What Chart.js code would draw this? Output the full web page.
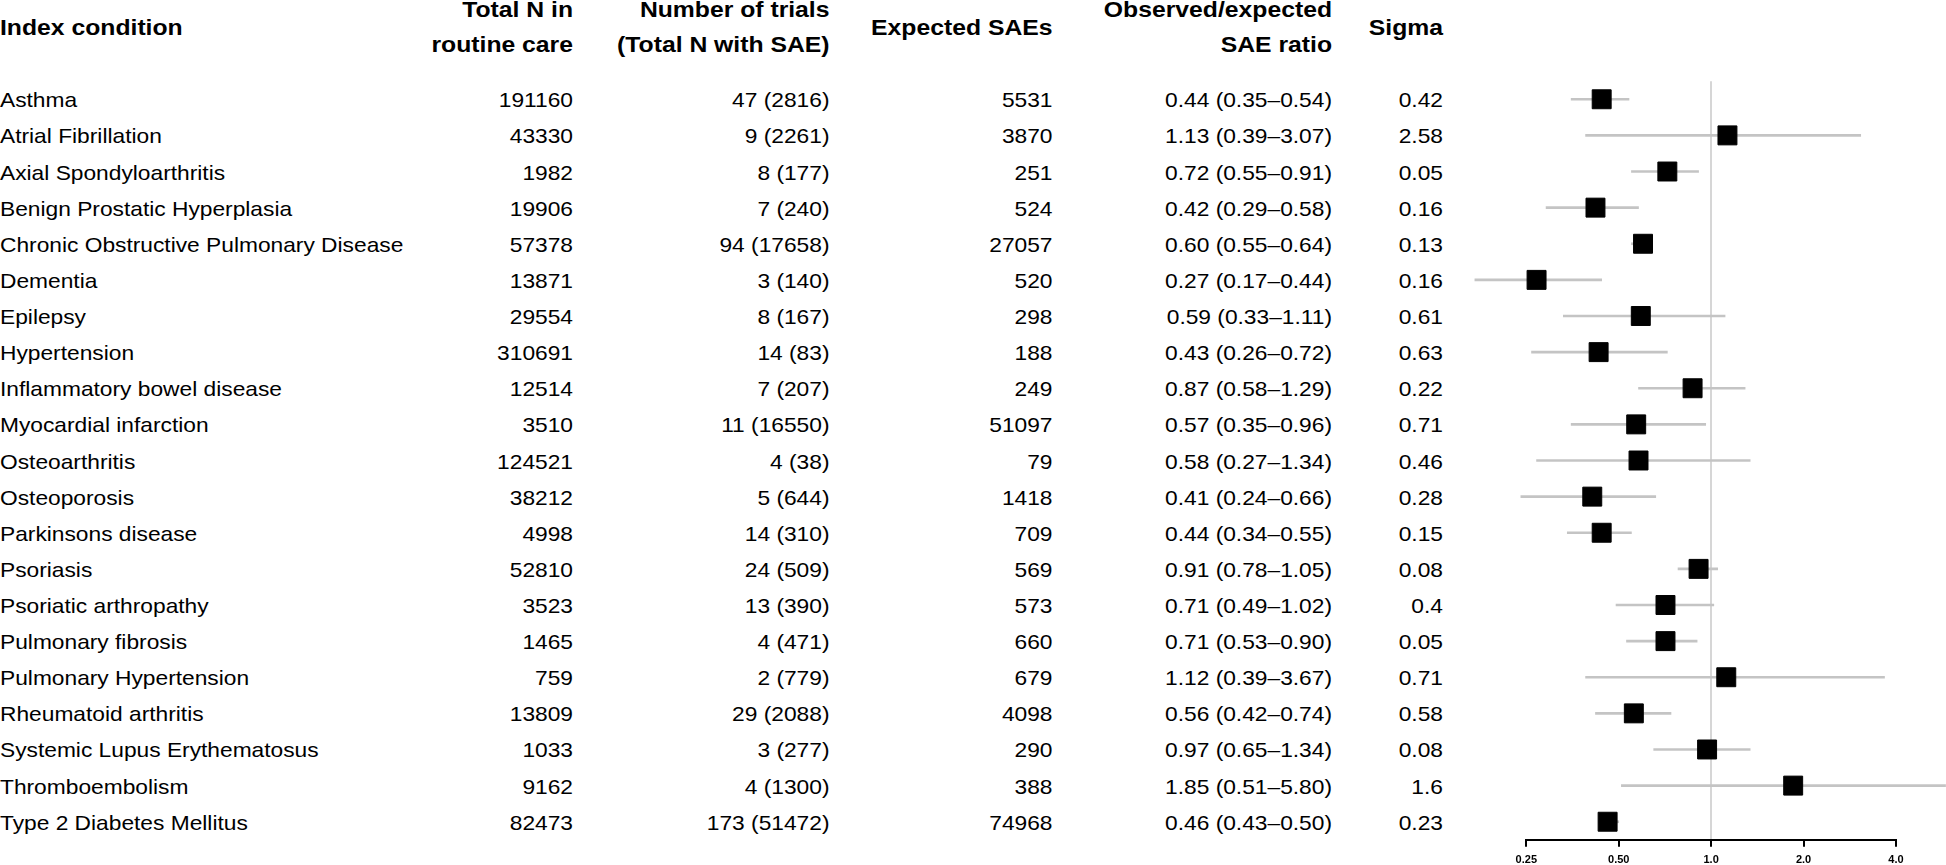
<!DOCTYPE html>
<html>
<head>
<meta charset="utf-8">
<script src="https://cdn.jsdelivr.net/npm/chart.js@4/dist/chart.umd.min.js"></script>
<style>
  html, body { margin:0; padding:0; overflow:hidden; background:#fff; width:1946px; height:865px; }
  #tbl { position:absolute; left:0; top:0; height:865px; transform-origin:0 0; font-family:"Liberation Sans", Arial, Helvetica, sans-serif; color:#000; }
  .cell { position:absolute; white-space:nowrap; font-size:19.8px; line-height:36px; }
  .hd { position:absolute; white-space:nowrap; font-size:21.5px; line-height:35px; font-weight:bold; }
  #plot { position:absolute; left:1400px; top:0; }
</style>
</head>
<body>
<div id="tbl"></div>
<div id="plot"><canvas id="c" width="546" height="874"></canvas></div>
<script>
// ---- data ----
const conditions = ['Asthma','Atrial Fibrillation','Axial Spondyloarthritis','Benign Prostatic Hyperplasia','Chronic Obstructive Pulmonary Disease','Dementia','Epilepsy','Hypertension','Inflammatory bowel disease','Myocardial infarction','Osteoarthritis','Osteoporosis','Parkinsons disease','Psoriasis','Psoriatic arthropathy','Pulmonary fibrosis','Pulmonary Hypertension','Rheumatoid arthritis','Systemic Lupus Erythematosus','Thromboembolism','Type 2 Diabetes Mellitus'];
const totalN = [191160, 43330, 1982, 19906, 57378, 13871, 29554, 310691, 12514, 3510, 124521, 38212, 4998, 52810, 3523, 1465, 759, 13809, 1033, 9162, 82473];
const nTrials = [47, 9, 8, 7, 94, 3, 8, 14, 7, 11, 4, 5, 14, 24, 13, 4, 2, 29, 3, 4, 173];
const nWithSAE = [2816, 2261, 177, 240, 17658, 140, 167, 83, 207, 16550, 38, 644, 310, 509, 390, 471, 779, 2088, 277, 1300, 51472];
const expectedSAEs = [5531, 3870, 251, 524, 27057, 520, 298, 188, 249, 51097, 79, 1418, 709, 569, 573, 660, 679, 4098, 290, 388, 74968];
const ratio = [0.44, 1.13, 0.72, 0.42, 0.60, 0.27, 0.59, 0.43, 0.87, 0.57, 0.58, 0.41, 0.44, 0.91, 0.71, 0.71, 1.12, 0.56, 0.97, 1.85, 0.46];
const lower = [0.35, 0.39, 0.55, 0.29, 0.55, 0.17, 0.33, 0.26, 0.58, 0.35, 0.27, 0.24, 0.34, 0.78, 0.49, 0.53, 0.39, 0.42, 0.65, 0.51, 0.43];
const upper = [0.54, 3.07, 0.91, 0.58, 0.64, 0.44, 1.11, 0.72, 1.29, 0.96, 1.34, 0.66, 0.55, 1.05, 1.02, 0.90, 3.67, 0.74, 1.34, 5.80, 0.50];
const sigma = ['0.42','2.58','0.05','0.16','0.13','0.16','0.61','0.63','0.22','0.71','0.46','0.28','0.15','0.08','0.4','0.05','0.71','0.58','0.08','1.6','0.23'];
const headers = ['Index condition', 'Total N in|routine care', 'Number of trials|(Total N with SAE)', 'Expected SAEs', 'Observed/expected|SAE ratio', 'Sigma'];
const tickValues = [0.25, 0.5, 1, 2, 4];
const tickLabels = ['0.25', '0.50', '1.0', '2.0', '4.0'];

// ---- forest plot ----
const ciData = conditions.map((c, i) => ({ x: [lower[i], upper[i]], y: i }));
const estData = conditions.map((c, i) => ({ x: ratio[i], y: i }));

const chart = new Chart(document.getElementById('c'), {
  type: 'bar',
  data: {
    datasets: [
      { type: 'bar', indexAxis: 'y', data: ciData, backgroundColor: '#c4c4c4', borderWidth: 0, barThickness: 2, clip: false, order: 2 },
      { type: 'scatter', data: estData, pointStyle: 'rect', pointRadius: 13.4, pointHoverRadius: 13.4,
        backgroundColor: '#000', borderColor: '#000', borderWidth: 1, clip: false, order: 1 }
    ]
  },
  options: {
    responsive: false,
    animation: false,
    devicePixelRatio: 1,
    events: [],
    indexAxis: 'y',
    layout: { padding: { left: 126.3, right: 50, top: 81.2, bottom: 0 } },
    plugins: { legend: { display: false }, tooltip: { enabled: false } },
    scales: {
      x: {
        type: 'logarithmic', min: 0.25, max: 4, offset: false,
        afterBuildTicks: (s) => { s.ticks = tickValues.map(v => ({ value: v })); },
        ticks: {
          autoSkip: false, maxRotation: 0, minRotation: 0, padding: 7, color: '#000',
          font: { family: '"Liberation Sans", Arial, sans-serif', size: 11, weight: 'bold' },
          callback: (v, idx) => tickLabels[idx]
        },
        grid: {
          offset: false, drawOnChartArea: true, drawTicks: true, tickLength: 7, lineWidth: 2, tickWidth: 2,
          tickColor: '#000',
          color: (ctx) => (ctx.tick && ctx.tick.value === 1) ? '#d6d6d6' : 'rgba(0,0,0,0)'
        },
        border: { display: true, color: '#000', width: 2 }
      },
      y: {
        type: 'linear', reverse: true, min: -0.5, max: 20.5, offset: false, display: false,
        grid: { offset: false }
      }
    }
  }
});

// ---- table text (positioned from the chart's own row scale) ----
const SX = 1.15;
const CW = 1946 / SX;
const tbl = document.getElementById('tbl');
tbl.style.width = CW + 'px';
tbl.style.transform = 'scaleX(' + SX + ')';
const colRight = [null, 573, 829.5, 1052.5, 1332, 1443];

function addCell(cls, text, top, right) {
  const d = document.createElement('div');
  d.className = cls;
  d.style.top = top + 'px';
  if (right === null) { d.style.left = '0px'; d.style.textAlign = 'left'; }
  else { d.style.right = (CW - right / SX) + 'px'; d.style.textAlign = 'right'; }
  d.innerHTML = text.split('|').join('<br>');
  tbl.appendChild(d);
}

headers.forEach((h, k) => {
  const twoLine = h.indexOf('|') >= 0;
  addCell('hd', h, twoLine ? -7.0 : 10.5, colRight[k]);
});

const ys = chart.scales.y;
conditions.forEach((c, i) => {
  const top = ys.getPixelForValue(i) - 17;
  const row = [
    c,
    String(totalN[i]),
    nTrials[i] + ' (' + nWithSAE[i] + ')',
    String(expectedSAEs[i]),
    ratio[i].toFixed(2) + ' (' + lower[i].toFixed(2) + '\u2013' + upper[i].toFixed(2) + ')',
    sigma[i]
  ];
  row.forEach((t, k) => addCell('cell', t, top, colRight[k]));
});
</script>
</body>
</html>
